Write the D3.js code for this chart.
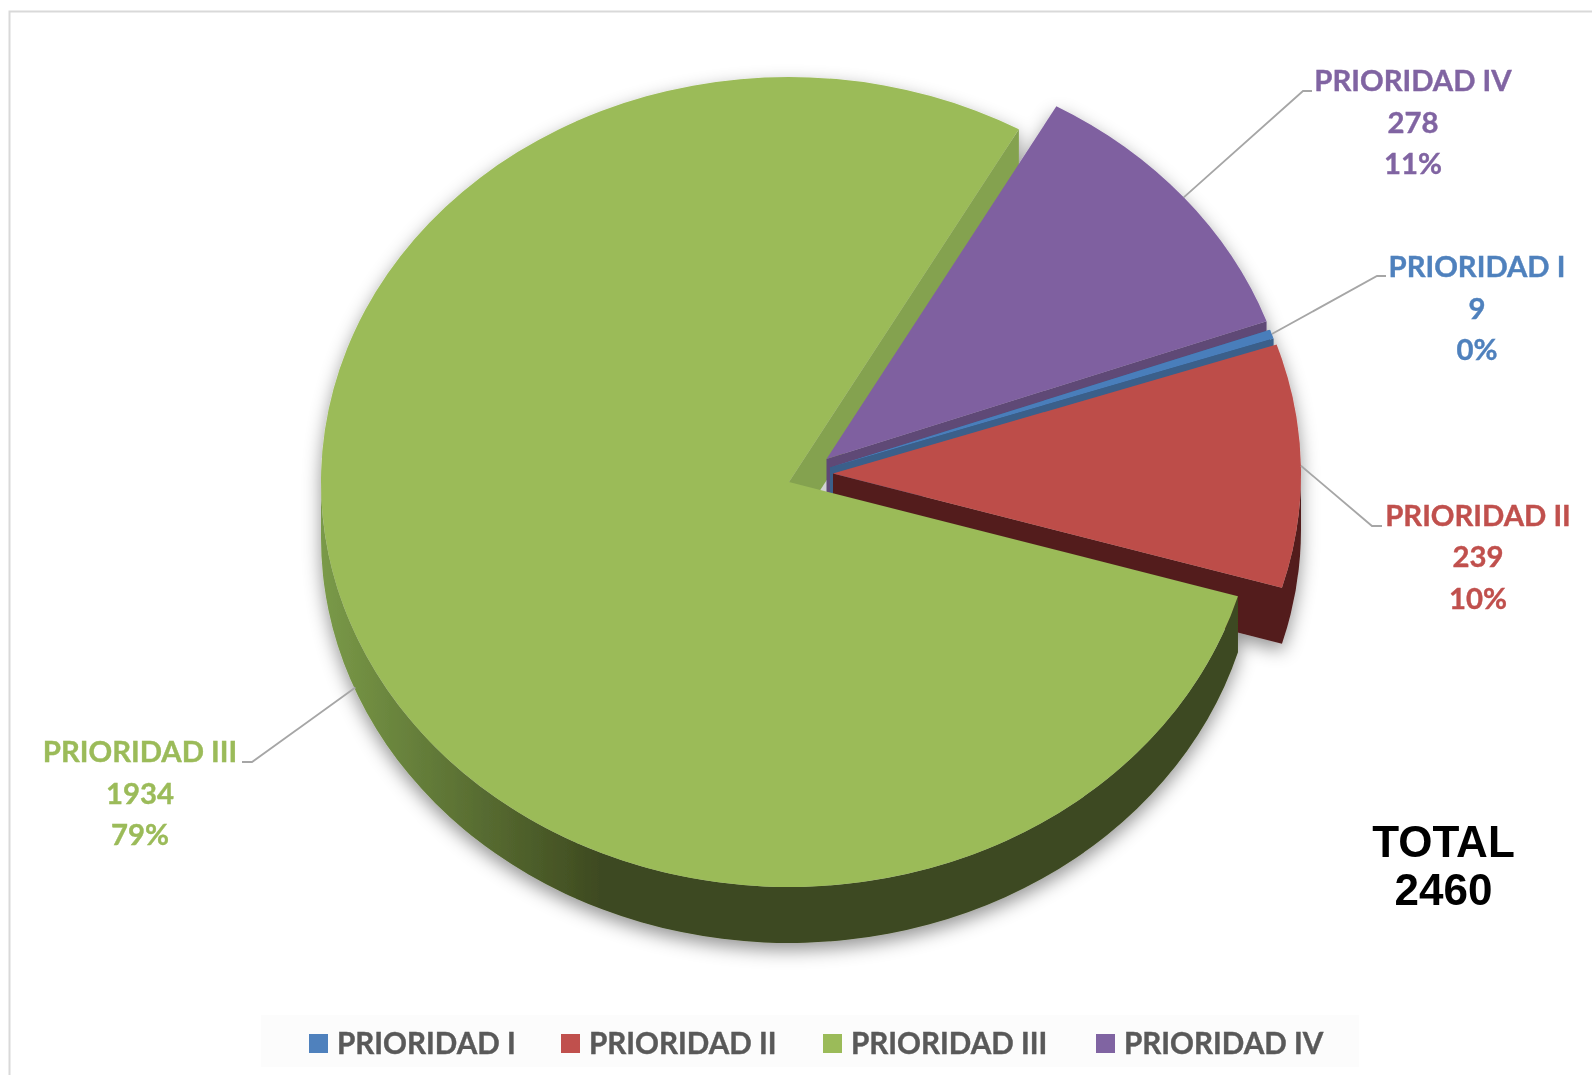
<!DOCTYPE html>
<html><head><meta charset="utf-8">
<script src="https://cdn.jsdelivr.net/npm/d3@7/dist/d3.min.js"></script>
<style>html,body{margin:0;padding:0;background:#fff}svg{display:block}</style>
</head><body><svg id="c" width="1592" height="1075"></svg>
<script>
const categories = ["PRIORIDAD I","PRIORIDAD II","PRIORIDAD III","PRIORIDAD IV"];
const values = [9,239,1934,278];
const percents = ["0%","10%","79%","11%"];
const topColors = ["#4a7ebb","#bd4d4a","#9bbb59","#7f60a0"];
const wallColors = ["#3a5f8a","#521f1e","#3e4a20","#5f4876"];
const legendColors = ["#4f81bd","#c0504d","#9bbb59","#8064a2"];
const labelColors = ["#4f81bd","#c0504d","#9bbb59","#8064a2"];
const centers = [[830,467.5],[833,473.5],[789,482],[826.5,459]];
const labelPos = [[1477,277],[1478,525.5],[140,762],[1413,91]];
const knees = [[[1377,276],[1386,276]],[[1372,526],[1382,526]],[[252,762],[242,762]],[[1303,91],[1312,91]]];
const legendX = [309,561,823,1096];
const total = ["TOTAL","2460"];

const rx=468, ry=405, depth=56, startDeg=70.1;
const svg=d3.select("#c");
const defs=svg.append("defs");
const g=defs.append("linearGradient").attr("id","gw").attr("gradientUnits","userSpaceOnUse")
  .attr("x1",321).attr("x2",600).attr("y1",0).attr("y2",0);
g.append("stop").attr("offset",0).attr("stop-color","#7a9a48");
g.append("stop").attr("offset",1).attr("stop-color","#3e4a20");
const f=defs.append("filter").attr("id","sh").attr("x","-10%").attr("y","-10%").attr("width","120%").attr("height","120%");
f.append("feDropShadow").attr("dx",0).attr("dy",7).attr("stdDeviation",9).attr("flood-color","#000").attr("flood-opacity",0.42);

// frame
svg.append("path").attr("d","M9.5,1075V11.5H1592").attr("fill","none").attr("stroke","#d9d9d9").attr("stroke-width",2);

const pie=d3.pie().sort(null).startAngle(startDeg*Math.PI/180).endAngle((startDeg+360)*Math.PI/180);
const arcs=pie(values);
const arc=d3.arc().innerRadius(0).outerRadius(rx);
const pt=(i,a)=>[centers[i][0]+rx*Math.sin(a), centers[i][1]-ry*Math.cos(a)];

function topFace(sel,i){
  sel.append("path").attr("d",arc(arcs[i]))
   .attr("transform",`translate(${centers[i]}) scale(1,${ry/rx})`).attr("fill",topColors[i]);
}
function radialWall(sel,i,a,fill){
  const c=centers[i],p=pt(i,a);
  sel.append("path").attr("d",`M${c}L${p}L${p[0]},${p[1]+depth}L${c[0]},${c[1]+depth}Z`).attr("fill",fill);
}
function outerWall(sel,i,a0,a1,fill){
  const p=pt(i,a0),q=pt(i,a1);
  const large=(a1-a0)>Math.PI?1:0;
  sel.append("path").attr("d",`M${p}A${rx},${ry} 0 ${large} 1 ${q}L${q[0]},${q[1]+depth}A${rx},${ry} 0 ${large} 0 ${p[0]},${p[1]+depth}Z`).attr("fill",fill);
}
const TH=1.5*Math.PI, R=Math.PI/2;
const pie3=svg.append("g").attr("filter","url(#sh)");
// soft shadow showing in the gap behind the exploded slices
pie3.append("path").attr("d",d3.arc().innerRadius(0).outerRadius(70)({startAngle:arcs[3].startAngle,endAngle:arcs[1].endAngle+2*Math.PI}))
  .attr("transform",`translate(${centers[2][0]},${centers[2][1]+depth})`).attr("fill","#d2d2d2");
// green rear radial wall (end angle of III)
radialWall(pie3,2,arcs[2].endAngle,"#84a24f");
// IV
radialWall(pie3,3,arcs[3].endAngle,wallColors[3]); topFace(pie3,3);
// I
radialWall(pie3,0,arcs[0].startAngle,wallColors[0]); topFace(pie3,0);
radialWall(pie3,0,arcs[0].endAngle,wallColors[0]);
// II
outerWall(pie3,1,R,arcs[1].endAngle,wallColors[1]);
radialWall(pie3,1,arcs[1].endAngle,wallColors[1]); topFace(pie3,1);
// III
outerWall(pie3,2,arcs[2].startAngle,TH,"url(#gw)");
topFace(pie3,2);

// leaders
const line=d3.line();
arcs.forEach((d,i)=>{
  const mid=(d.startAngle+d.endAngle)/2;
  const s=pt(i,mid);
  const wall=Math.cos(mid)<0?depth*0.95:0;
  svg.append("path").attr("d",line([[s[0],s[1]+wall],...knees[i]])).attr("fill","none").attr("stroke","#a6a6a6").attr("stroke-width",1.8);
});
// labels
const LF="Lato, 'Open Sans', sans-serif";
categories.forEach((c,i)=>{
  const t=svg.append("text").attr("text-anchor","middle").attr("font-family",LF).attr("font-weight",700)
    .attr("font-size",29.3).attr("fill",labelColors[i]).attr("stroke",labelColors[i]).attr("stroke-width",0.4);
  [c,values[i],percents[i]].forEach((s,k)=>t.append("tspan").attr("x",labelPos[i][0]).attr("y",labelPos[i][1]+k*41.5).text(s));
});
// total
total.forEach((s,k)=>svg.append("text").attr("x",1443.5).attr("y",857+k*48).attr("text-anchor","middle")
  .attr("font-family","'Liberation Sans',Arial,sans-serif").attr("font-weight",700).attr("font-size",44).attr("fill","#000").text(s));
// legend
svg.append("rect").attr("x",261).attr("y",1015).attr("width",1098).attr("height",52).attr("fill","#fcfcfc");
categories.forEach((c,i)=>{
  svg.append("rect").attr("x",legendX[i]).attr("y",1034).attr("width",19).attr("height",19).attr("fill",legendColors[i]);
  svg.append("text").attr("x",legendX[i]+28).attr("y",1054).attr("font-family",LF).attr("font-weight",700).attr("font-size",29.6).attr("fill","#595959").attr("stroke","#595959").attr("stroke-width",0.4).text(c);
});
</script></body></html>
